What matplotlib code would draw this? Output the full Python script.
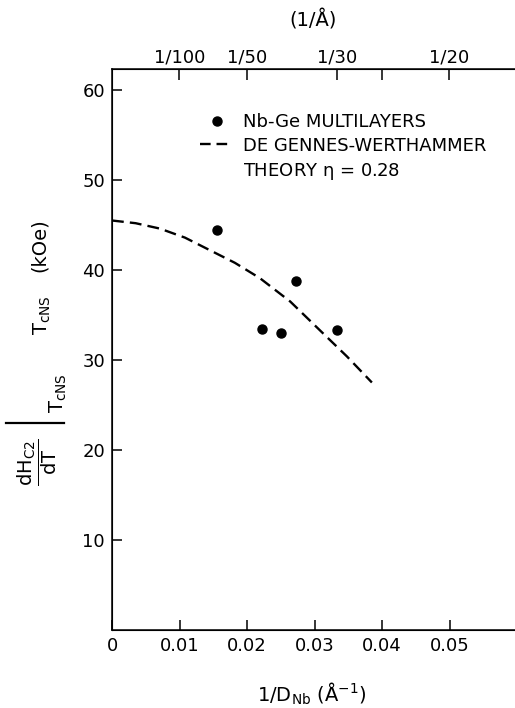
import matplotlib.pyplot as plt
from matplotlib.lines import Line2D

plt.rcParams['font.family'] = 'DejaVu Sans'
plt.rcParams['mathtext.fontset'] = 'dejavusans'
plt.rcParams['mathtext.default'] = 'regular'

# measured points (Nb-Ge multilayers)
x_pts = [0.0155, 0.0222, 0.0250, 0.0272, 0.0334]
y_pts = [44.5, 33.4, 33.0, 38.8, 33.3]

# de Gennes-Werthammer theory curve, eta = 0.28
x_th = [0.0, 0.0035, 0.0071, 0.0108, 0.0145, 0.0182, 0.0219, 0.0264, 0.0308, 0.0348, 0.0385]
y_th = [45.5, 45.2, 44.6, 43.6, 42.2, 40.8, 39.1, 36.5, 33.3, 30.4, 27.5]

x_ticks = [0, 0.01, 0.02, 0.03, 0.04, 0.05]
x_labels = ['0', '0.01', '0.02', '0.03', '0.04', '0.05']
y_ticks = [10, 20, 30, 40, 50, 60]
top_ticks = [0.01, 0.02, 1/30, 0.04, 0.05]
top_labels = ['1/100', '1/50', '1/30', '', '1/20']

W, H = 515, 708
fig = plt.figure(figsize=(W/100, H/100), dpi=100)
ax = fig.add_axes([112/W, 78/H, (W-112)/W, (630-69)/H])

ax.plot(x_pts, y_pts, 'o', color='black', markersize=6.5)
ax.plot(x_th, y_th, color='black', lw=1.7, linestyle=(0, (5, 2.6)))

ax.set_xlim(0, (W-112)/6750)
ax.set_ylim(0, 561/9)
ax.set_xticks(x_ticks)
ax.set_xticklabels(x_labels)
ax.set_yticks(y_ticks)
ax.tick_params(direction='in', length=7, width=1.1, labelsize=13, pad=5)
ax.spines['right'].set_visible(False)
for s in ['left', 'bottom', 'top']:
    ax.spines[s].set_linewidth(1.1)

ax2 = ax.twiny()
ax2.set_xlim(ax.get_xlim())
ax2.set_xticks(top_ticks)
ax2.set_xticklabels(top_labels)
ax2.tick_params(direction='in', length=8, width=1.1, labelsize=13, pad=2)
ax2.spines['right'].set_visible(False)

# legend
h1 = Line2D([], [], marker='o', color='black', linestyle='none', markersize=6.5)
h2 = Line2D([], [], color='black', lw=1.7, linestyle=(0, (4.5, 2.5)))
h3 = Line2D([], [], linestyle='none')
leg = ax.legend([h1, h2, h3],
                ['Nb-Ge MULTILAYERS', 'DE GENNES-WERTHAMMER', r'THEORY $\eta$ = 0.28'],
                loc='upper left', bbox_to_anchor=(200/W, 1 - 113/H),
                bbox_transform=fig.transFigure, frameon=False, fontsize=13,
                handlelength=1.85, handletextpad=0.55, borderpad=0, borderaxespad=0,
                labelspacing=0.32)

# axis labels
fig.text(313/W, 1 - 20/H, '(1/Å)', ha='center', va='center', fontsize=14)
fig.text(312/W, 1 - 694/H, r'1/D$_{Nb}$ (Å$^{-1}$)', ha='center', va='center', fontsize=14)

# y label: dHc2/dT |TcNS  TcNS (kOe), written sideways
fig.text(37/W, 1 - 462/H, r'$\dfrac{dH_{C2}}{dT}$',
         rotation=90, ha='center', va='center', fontsize=14)
fig.add_artist(Line2D([6/W, 64/W], [1 - 423/H, 1 - 423/H], color='black', lw=1.6))
fig.text(58/W, 1 - 393/H, r'T$_{cNS}$', rotation=90, ha='center', va='center', fontsize=14)
fig.text(42/W, 1 - 315/H, r'T$_{cNS}$', rotation=90, ha='center', va='center', fontsize=14)
fig.text(39/W, 1 - 245/H, '(kOe)', rotation=90, ha='center', va='center', fontsize=14)

fig.savefig('out.png', dpi=100)
